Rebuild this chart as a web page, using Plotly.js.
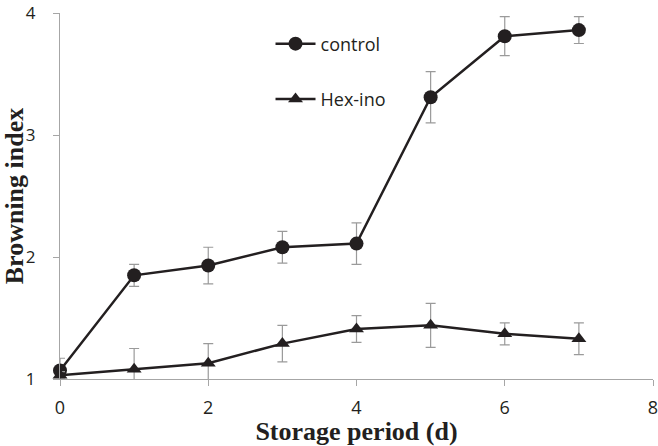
<!DOCTYPE html>
<html><head><meta charset="utf-8">
<script src="https://cdn.plot.ly/plotly-3.0.1.min.js"></script>
<style>html,body{margin:0;padding:0;background:#fff}#chart{width:658px;height:446px}</style>
</head><body><div id="chart"></div>
<script>
var days = [0, 1, 2, 3, 4, 5, 6, 7];
var controlValues = [1.07, 1.85, 1.93, 2.08, 2.11, 3.31, 3.81, 3.86];
var controlErrors = [0.10, 0.09, 0.15, 0.13, 0.17, 0.21, 0.16, 0.11];
var hexValues = [1.03, 1.08, 1.13, 1.29, 1.41, 1.44, 1.37, 1.33];
var hexErrors = [0.03, 0.17, 0.16, 0.15, 0.11, 0.18, 0.09, 0.13];
var xTicks = [0, 2, 4, 6, 8];
var yTicks = [1, 2, 3, 4];
var seriesNames = ['control', 'Hex-ino'];

var lineColor = '#231f20';
var errColor = '#9a9a9a';
var traces = [
  {x: days, y: controlValues, name: seriesNames[0], type: 'scatter', mode: 'lines+markers',
   line: {color: lineColor, width: 2.5}, marker: {symbol: 'circle', size: 14, color: lineColor},
   error_y: {type: 'data', array: controlErrors, visible: true, color: errColor, thickness: 1.2, width: 5},
   legendgroup: 'a', cliponaxis: false},
  {x: days, y: hexValues, name: seriesNames[1], type: 'scatter', mode: 'lines+markers',
   line: {color: lineColor, width: 2.5}, marker: {symbol: 'triangle-up', size: 13, color: lineColor},
   error_y: {type: 'data', array: hexErrors, visible: true, color: errColor, thickness: 1.2, width: 5},
   legendgroup: 'b', cliponaxis: false}
];
var layout = {
  width: 658, height: 446,
  margin: {l: 60, r: 5, t: 13, b: 67},
  paper_bgcolor: '#fff', plot_bgcolor: '#fff',
  font: {family: 'Open Sans, sans-serif', color: '#231f20', size: 18},
  showlegend: true,
  legend: {x: 0.355, y: 0.966, xanchor: 'left', yanchor: 'top', bgcolor: 'rgba(0,0,0,0)',
           font: {family: 'Open Sans, sans-serif', size: 18, color: '#231f20'},
           tracegroupgap: 29, traceorder: 'grouped', itemwidth: 40},
  xaxis: {range: [0, 8], tickvals: xTicks, ticktext: xTicks.map(String), showgrid: false, zeroline: false,
          showline: true, linecolor: '#a6a6a6', linewidth: 1, ticks: 'outside', ticklen: 6, tickcolor: '#a6a6a6',
          tickfont: {size: 18, color: '#231f20'}, ticklabelstandoff: 6, ticklabeloverflow: 'allow',
          title: {text: 'Storage period (d)', font: {family: 'Liberation Serif, Times New Roman, serif', size: 26, color: '#231f20', weight: 'bold'}, standoff: 2}},
  yaxis: {range: [1, 4], tickvals: yTicks, ticktext: yTicks.map(String), showgrid: false, zeroline: false,
          showline: true, linecolor: '#a6a6a6', linewidth: 1, ticks: 'outside', ticklen: 6, tickcolor: '#a6a6a6',
          tickfont: {size: 17, color: '#231f20'}, ticklabelstandoff: 14, ticklabeloverflow: 'allow',
          title: {text: 'Browning index', font: {family: 'Liberation Serif, Times New Roman, serif', size: 26, color: '#231f20', weight: 'bold'}, standoff: 4}}
};
Plotly.newPlot('chart', traces, layout, {displayModeBar: false, staticPlot: true});
</script></body></html>
